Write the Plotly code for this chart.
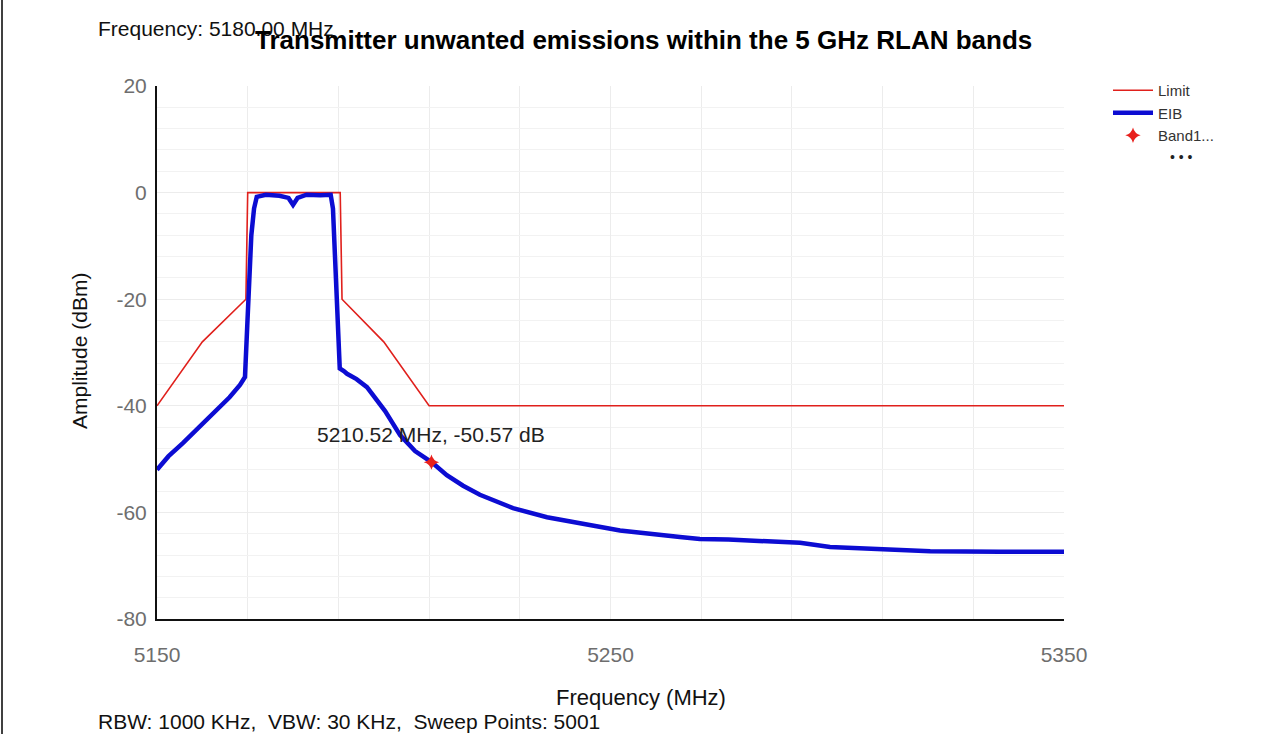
import plotly.graph_objects as go

# ---- data ----
limit_freq = [5150, 5160, 5169.6, 5170, 5190.4, 5190.8, 5200, 5210, 5350]
limit_db = [-40, -28, -20, 0, 0, -20, -28, -40, -40]

eib_freq = [5150, 5152.5, 5155.7, 5159.5, 5163.2, 5166, 5168.3, 5169.4, 5169.9, 5170.3,
            5170.8, 5171.4, 5172, 5174, 5177, 5179, 5180, 5181, 5183, 5186, 5188.3,
            5188.8, 5189.3, 5189.8, 5190.3, 5191.2, 5191.9, 5194, 5196.3, 5200.3, 5203.6,
            5206.9, 5210.6, 5213.9, 5217.5, 5221.2, 5228.5, 5236.0, 5243.3, 5252.1,
            5265.3, 5269.7, 5276, 5283.0, 5291.8, 5298.4, 5309.4, 5320.5, 5335.9, 5350]
eib_db = [-52.0, -49.5, -47.0, -43.8, -40.8, -38.4, -36.1, -34.6, -25, -15,
          -8, -3, -0.8, -0.4, -0.6, -1.0, -2.3, -1.0, -0.4, -0.5, -0.4,
          -3, -14.5, -25, -33.0, -33.5, -34.0, -35.0, -36.5, -41.0, -45.5,
          -48.5, -50.6, -53.0, -55.0, -56.7, -59.2, -60.9, -62.0, -63.4,
          -64.6, -65.0, -65.1, -65.3, -65.7, -66.5, -66.9, -67.3, -67.4, -67.4]

marker_freq = [5210.52]
marker_db = [-50.57]
marker_label = "5210.52 MHz, -50.57 dB"

x_ticks = [5150, 5250, 5350]
y_ticks = [20, 0, -20, -40, -60, -80]
y_tick_text = ["20", "0", "-20", "-40", "-60", "-80"]

title_text = "Transmitter unwanted emissions within the 5 GHz RLAN bands"
freq_note = "Frequency: 5180.00 MHz"
bottom_note = "RBW: 1000 KHz,  VBW: 30 KHz,  Sweep Points: 5001"

FONT = "Liberation Sans, Arial, sans-serif"

fig = go.Figure()
fig.add_trace(go.Scatter(x=limit_freq, y=limit_db, mode="lines", name="Limit",
                         line=dict(color="#e0201c", width=1.6)))
fig.add_trace(go.Scatter(x=eib_freq, y=eib_db, mode="lines", name="EIB",
                         line=dict(color="#0c0cd2", width=4.5)))
fig.add_trace(go.Scatter(x=marker_freq, y=marker_db, mode="markers", name="Band1...",
                         marker=dict(symbol="star-diamond", size=11, color="#e8201c")))

fig.add_annotation(x=marker_freq[0], y=marker_db[0], text=marker_label, showarrow=False,
                   yshift=28, xanchor="center", font=dict(size=21, color="#222222", family=FONT))

W, H = 1280, 734
L, R, T, B = 157, 216, 86, 115
pw, ph = W - L - R, H - T - B

def px(x):
    return (x - L) / pw

def py(y):
    return (H - B - y) / ph

fig.add_annotation(xref="paper", yref="paper", x=px(96), y=py(28), text=freq_note,
                   showarrow=False, xanchor="left", yanchor="middle",
                   font=dict(size=21, color="#111111", family=FONT))
fig.add_annotation(xref="paper", yref="paper", x=px(643), y=py(40), text="<b>" + title_text + "</b>",
                   showarrow=False, xanchor="center", yanchor="middle",
                   font=dict(size=26, color="#000000", family=FONT))
fig.add_annotation(xref="paper", yref="paper", x=px(641), y=py(697), text="Frequency (MHz)",
                   showarrow=False, xanchor="center", yanchor="middle",
                   font=dict(size=22, color="#111111", family=FONT))
fig.add_annotation(xref="paper", yref="paper", x=px(96), y=py(721), text=bottom_note,
                   showarrow=False, xanchor="left", yanchor="middle",
                   font=dict(size=21, color="#111111", family=FONT))
fig.add_annotation(xref="paper", yref="paper", x=px(79), y=py(351), text="Amplitude (dBm)",
                   showarrow=False, textangle=-90, xanchor="center", yanchor="middle",
                   font=dict(size=21, color="#111111", family=FONT))
fig.add_annotation(xref="paper", yref="paper", x=px(1181), y=py(157), text="• • •",
                   showarrow=False, xanchor="center", yanchor="middle",
                   font=dict(size=14, color="#222222", family=FONT))

# left frame line of the picture
fig.add_shape(type="line", xref="paper", yref="paper", x0=px(2), x1=px(2), y0=py(H), y1=py(0),
              line=dict(color="#000000", width=1.5))

fig.update_layout(
    width=W, height=H,
    margin=dict(l=L, r=R, t=T, b=B),
    paper_bgcolor="white", plot_bgcolor="white",
    font=dict(family=FONT),
    showlegend=True,
    legend=dict(x=px(1108), y=py(74), xanchor="left", yanchor="top",
                font=dict(size=15, color="#333333", family=FONT),
                bgcolor="rgba(0,0,0,0)", tracegroupgap=0, itemwidth=40),
)
fig.update_xaxes(range=[5150, 5350], tickvals=x_ticks, ticks="", showline=True,
                 linecolor="#111111", linewidth=2, zeroline=False,
                 showgrid=True, gridcolor="#ececec", gridwidth=1,
                 minor=dict(dtick=20, tick0=5150, showgrid=True, gridcolor="#ececec"),
                 tickfont=dict(size=21, color="#6e6e6e", family=FONT), ticklabelstandoff=16)
fig.update_yaxes(range=[-80, 20], tickvals=y_ticks, ticktext=y_tick_text, ticks="", showline=True,
                 linecolor="#111111", linewidth=2, zeroline=False,
                 showgrid=True, gridcolor="#ececec", gridwidth=1,
                 minor=dict(dtick=4, tick0=0, showgrid=True, gridcolor="#f2f2f2"),
                 tickfont=dict(size=21, color="#6e6e6e", family=FONT), ticklabelstandoff=4)

fig.write_html("out.html", config={"displayModeBar": False},
               post_script="document.body.style.margin='0px';")
